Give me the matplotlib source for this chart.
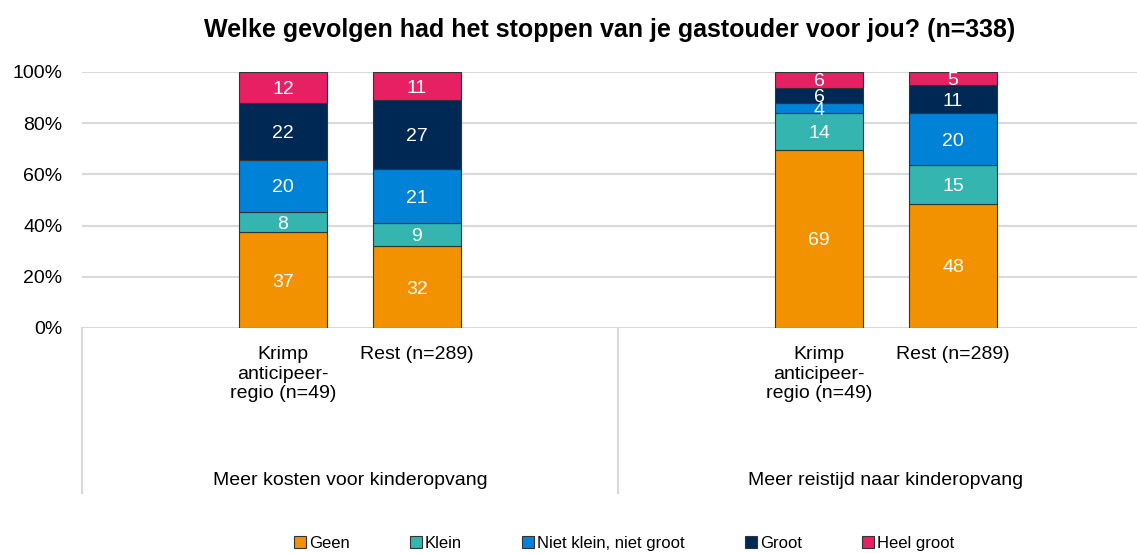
import matplotlib.pyplot as plt
from matplotlib.patches import Patch
from matplotlib.transforms import blended_transform_factory
import numpy as np

plt.rcParams['font.family'] = ['Liberation Sans', 'DejaVu Sans']

title = "Welke gevolgen had het stoppen van je gastouder voor jou? (n=338)"
groups = ["Meer kosten voor kinderopvang", "Meer reistijd naar kinderopvang"]
bar_labels = ["Krimp\nanticipeer-\nregio (n=49)", "Rest (n=289)",
              "Krimp\nanticipeer-\nregio (n=49)", "Rest (n=289)"]
answers = ["Geen", "Klein", "Niet klein, niet groot", "Groot", "Heel groot"]
colors = ["#F39200", "#35B5B0", "#0082D6", "#002855", "#E62063"]

# percentages per answer, one value per bar
geen = [37, 32, 69, 48]
klein = [8, 9, 14, 15]
niet = [20, 21, 4, 20]
groot = [22, 27, 6, 11]
heel_groot = [12, 11, 6, 5]

series = np.array([geen, klein, niet, groot, heel_groot], dtype=float)
shares = series / series.sum(axis=0) * 100  # 100% stacked

# 4 slots per group, bars in the middle two
x = np.array([1, 2, 5, 6])

fig = plt.figure(figsize=(11.37, 5.53), dpi=100)
ax = fig.add_axes([82 / 1137, 225 / 553, 1072 / 1137, 256 / 553])

bottom = np.zeros(len(x))
for vals, shr, col in zip(series, shares, colors):
    ax.bar(x, shr, bottom=bottom, width=0.66, color=col,
           edgecolor='#333333', linewidth=0.8, zorder=3)
    for xi, b, s, v in zip(x, bottom, shr, vals):
        ax.text(xi, b + s / 2 - 0.8, f"{v:.0f}", ha='center', va='center',
                color='white', fontsize=14, zorder=4)
    bottom += shr

ax.set_xlim(-0.5, 7.5)
ax.set_ylim(0, 100)
ax.set_yticks(np.arange(0, 101, 20))
ax.set_yticklabels([f"{v}%" for v in range(0, 101, 20)], fontsize=14)
ax.tick_params(axis='y', length=0, pad=14)
ax.set_xticks(x)
ax.set_xticklabels(bar_labels, fontsize=14, va='top', ha='center')
ax.tick_params(axis='x', length=0, pad=13)
ax.yaxis.grid(True, color='#D9D9D9', linewidth=1.5, zorder=0)
for s in ax.spines.values():
    s.set_visible(False)

# group labels and separators below the axis
trans = blended_transform_factory(ax.transData, ax.transAxes)
for i, g in enumerate(groups):
    ax.text(1.5 + 4 * i, -0.594, g, transform=trans, ha='center',
            va='center', fontsize=14)
for xs in [-0.5, 3.5, 7.5]:
    ax.plot([xs, xs], [0, -0.645], transform=trans, color='#D9D9D9',
            linewidth=1.5, clip_on=False)

fig.text(0.536, 0.945, title, ha='center', va='center', fontsize=18,
         fontweight='bold')

handles = [Patch(facecolor=c, edgecolor='#333333', linewidth=0.8) for c in colors]
fig.legend(handles, answers, loc='center', bbox_to_anchor=(0.549, 0.018),
           ncol=5, frameon=False, fontsize=12, handlelength=0.7,
           handleheight=0.7, handletextpad=0.2, columnspacing=3.6)

fig.savefig("out.png", dpi=100)
